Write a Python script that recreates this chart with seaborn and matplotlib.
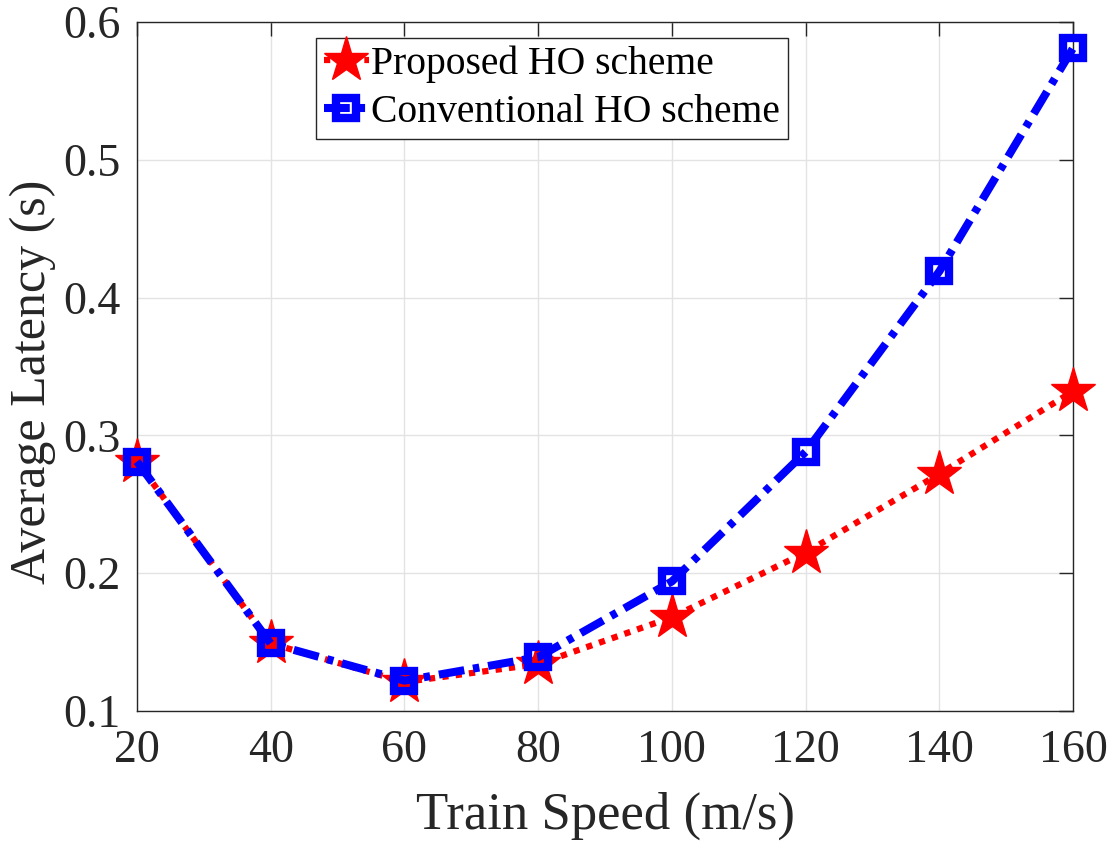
import matplotlib
matplotlib.use("Agg")
import matplotlib.pyplot as plt
import seaborn as sns
import pandas as pd

speeds = [20, 40, 60, 80, 100, 120, 140, 160]
proposed = [0.281, 0.149, 0.121, 0.134, 0.168, 0.215, 0.272, 0.332]
conventional = [0.281, 0.149, 0.122, 0.139, 0.194, 0.288, 0.419, 0.581]
xticks = [20, 40, 60, 80, 100, 120, 140, 160]
yticks = [0.1, 0.2, 0.3, 0.4, 0.5, 0.6]
labels = ["Proposed HO scheme", "Conventional HO scheme"]

sns.set_style("white")
plt.rcParams['font.family'] = ['Liberation Serif', 'DejaVu Serif']
plt.rcParams['mathtext.fontset'] = 'stix'

df_p = pd.DataFrame({"speed": speeds, "lat": proposed})
df_c = pd.DataFrame({"speed": speeds, "lat": conventional})

fig = plt.figure(figsize=(11.18, 8.44), dpi=100)
ax = fig.add_axes([0.1225, 0.1576, 0.8373, 0.8164])

sns.lineplot(data=df_p, x="speed", y="lat", ax=ax, color="#ff0000",
             linestyle=(0, (1.0, 1.15)), linewidth=4.5,
             marker="*", markersize=34, markerfacecolor="#ff0000",
             markeredgecolor="#ff0000", markeredgewidth=1,
             label=labels[0], zorder=3, clip_on=False)
sns.lineplot(data=df_c, x="speed", y="lat", ax=ax, color="#0000ff",
             linestyle=(0, (3.2, 1.1, 0.8, 1.1)), linewidth=5.8,
             marker="s", markersize=15, markerfacecolor="none",
             markeredgecolor="#0000ff", markeredgewidth=6,
             label=labels[1], zorder=4, clip_on=False)

ax.set_xlim(20, 160)
ax.set_ylim(0.1, 0.6)
ax.set_xticks(xticks)
ax.set_yticks(yticks)
ax.set_xticklabels([str(v) for v in xticks])
ax.set_yticklabels([f"{v:.1f}" for v in yticks])

ax.grid(True, color="#e3e3e3", linewidth=1.0)
ax.set_axisbelow(True)
for s in ax.spines.values():
    s.set_visible(True)
    s.set_color("#262626")
    s.set_linewidth(1.0)
ax.tick_params(axis="both", which="both", direction="in", length=10, width=1,
               color="#262626", top=True, right=True, labelsize=33,
               labelcolor="#262626")
ax.tick_params(axis="x", pad=13)
ax.tick_params(axis="y", pad=12)

ax.set_xlabel("Train Speed (m/s)", fontsize=38, color="#262626")
ax.set_ylabel("Average Latency (s)", fontsize=36, color="#262626")
ax.xaxis.set_label_coords(0.5, -0.117)
ax.yaxis.set_label_coords(-0.086, 0.478)

leg = ax.legend(loc="upper left", bbox_to_anchor=(0.191, 0.977), borderaxespad=0,
                fontsize=28.5, frameon=True, fancybox=False, framealpha=1,
                edgecolor="#262626", handlelength=1.15, handletextpad=0.05,
                labelspacing=0.27, borderpad=0.2, numpoints=1)
leg.get_frame().set_linewidth(1.0)
for t in leg.get_texts():
    t.set_color("black")

fig.savefig("out.png", dpi=100)
